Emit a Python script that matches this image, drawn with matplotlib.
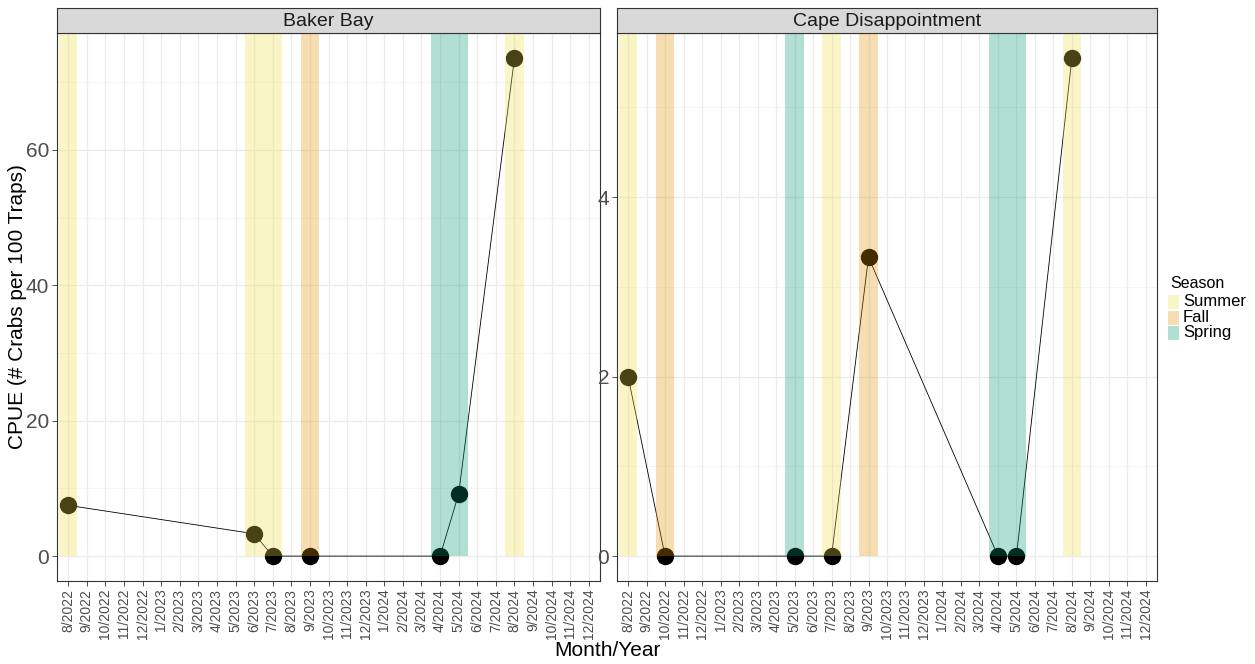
import numpy as np
import matplotlib
matplotlib.use('Agg')
import matplotlib.pyplot as plt
from matplotlib.patches import Rectangle

plt.rcParams['font.family'] = ['Liberation Sans', 'DejaVu Sans']

# month labels on the discrete x axis
months = ['8/2022', '9/2022', '10/2022', '11/2022', '12/2022',
          '1/2023', '2/2023', '3/2023', '4/2023', '5/2023', '6/2023', '7/2023',
          '8/2023', '9/2023', '10/2023', '11/2023', '12/2023',
          '1/2024', '2/2024', '3/2024', '4/2024', '5/2024', '6/2024', '7/2024',
          '8/2024', '9/2024', '10/2024', '11/2024', '12/2024']

# Baker Bay
bb_months = ['8/2022', '6/2023', '7/2023', '9/2023', '4/2024', '5/2024', '8/2024']
bb_cpue = [7.5, 3.3, 0, 0, 0, 9.2, 73.6]
bb_season = ['Summer', 'Summer', 'Summer', 'Fall', 'Spring', 'Spring', 'Summer']

# Cape Disappointment
cd_months = ['8/2022', '10/2022', '5/2023', '7/2023', '9/2023', '4/2024', '5/2024', '8/2024']
cd_cpue = [2.0, 0, 0, 0, 3.33, 0, 0, 5.55]
cd_season = ['Summer', 'Fall', 'Spring', 'Summer', 'Fall', 'Spring', 'Spring', 'Summer']

seasons = ['Summer', 'Fall', 'Spring']
season_col = {'Summer': '#EEE148', 'Fall': '#E49400', 'Spring': '#009870'}
ALPHA = 0.3

W, H = 1255, 664
fig = plt.figure(figsize=(W / 100, H / 100), dpi=100)


def px(x0, y0, x1, y1):
    # pixel box (top-left origin) -> figure fraction
    return [x0 / W, 1 - y1 / H, (x1 - x0) / W, (y1 - y0) / H]


def panel(x0, x1, title, mlist, vals, seas, yticks, yminor):
    ax = fig.add_axes(px(x0, 33, x1, 581))
    xs = [months.index(m) + 1 for m in mlist]
    top = max(vals) * 1.05
    bot = -max(vals) * 0.05
    ax.set_xlim(0.4, len(months) + 0.6)
    ax.set_ylim(bot, top)

    for v in yminor:
        ax.axhline(v, color='#F4F4F4', lw=0.6, zorder=0)
    for v in yticks:
        ax.axhline(v, color='#EBEBEB', lw=0.9, zorder=0)
    for i in range(1, len(months) + 1):
        ax.axvline(i, color='#EBEBEB', lw=0.9, zorder=0)

    ax.plot(xs, vals, color='black', lw=0.6, zorder=2)
    ax.plot(xs, vals, 'o', color='black', ms=11.5, zorder=3)
    for x, s in zip(xs, seas):
        ax.bar(x, top, bottom=0, width=1.0, color=season_col[s], alpha=ALPHA,
               lw=0, zorder=4)

    ax.set_xticks(range(1, len(months) + 1))
    ax.set_xticklabels(months, rotation=90, fontsize=10, color='#4D4D4D')
    ax.set_yticks(yticks)
    ax.set_yticklabels([str(v) for v in yticks], fontsize=15, color='#4D4D4D')
    ax.tick_params(length=3.5, width=0.6, color='#333333', pad=2)
    for sp in ax.spines.values():
        sp.set_color('#333333')
        sp.set_linewidth(0.8)

    st = fig.add_axes(px(x0, 8, x1, 33))
    st.set_facecolor('#D9D9D9')
    st.set_xticks([])
    st.set_yticks([])
    for sp in st.spines.values():
        sp.set_color('#333333')
        sp.set_linewidth(0.8)
    st.text(0.5, 0.45, title, ha='center', va='center', fontsize=14,
            color='#1A1A1A', transform=st.transAxes)
    return ax


panel(57, 600, 'Baker Bay', bb_months, bb_cpue, bb_season,
      [0, 20, 40, 60], [10, 30, 50, 70])
panel(617, 1157, 'Cape Disappointment', cd_months, cd_cpue, cd_season,
      [0, 2, 4], [1, 3, 5])

fig.text(18 / W, 1 - 307 / H, 'CPUE (# Crabs per 100 Traps)', rotation=90,
         ha='center', va='center', fontsize=15)
fig.text(607 / W, 1 - 650 / H, 'Month/Year', ha='center', va='center', fontsize=15)

# legend
fig.text(1170 / W, 1 - 284 / H, 'Season', ha='left', va='center', fontsize=11.5)
for i, s in enumerate(seasons):
    yc = 302 + i * 15.5
    fig.patches.append(Rectangle((1168 / W, 1 - (yc + 7) / H), 11 / W, 14 / H,
                                 transform=fig.transFigure, color=season_col[s],
                                 alpha=ALPHA, lw=0))
    fig.text(1183 / W, 1 - yc / H, s, ha='left', va='center', fontsize=12)

fig.savefig('out.png', dpi=100)
